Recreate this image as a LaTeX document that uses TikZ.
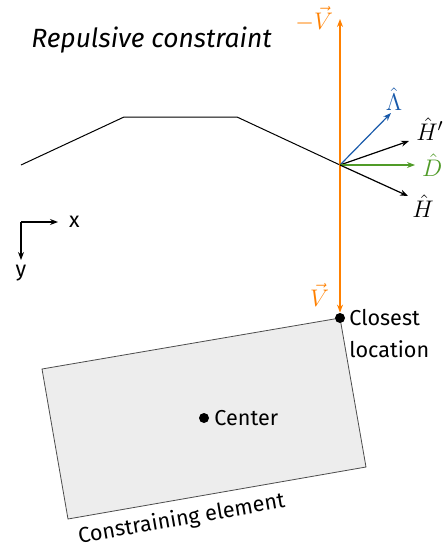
\documentclass[tikz,border=0pt]{standalone}
\usepackage[no-math]{fontspec}
\setmainfont{Fira Sans}
\usepackage{amsmath}
\usetikzlibrary{arrows.meta,positioning,calc}
\definecolor{vorange}{RGB}{255,128,0}
\definecolor{lblue}{RGB}{25,90,170}
\definecolor{dgreen}{RGB}{80,155,40}
\tikzset{
  vec/.style={line width=0.6pt,->},
  dotpt/.style={circle,fill=black,inner sep=0pt,minimum size=5pt},
  elem/.style={draw=black!70,line width=0.4pt,fill=black!7},
  mlabel/.style={font=\fontsize{12.5}{15}\selectfont}
}

\begin{document}
\begin{tikzpicture}[x=0.5pt,y=-0.5pt,>={Stealth[length=4pt,width=3pt]},
  font=\fontsize{10.8}{13}\selectfont]
\useasboundingbox (0,0) rectangle (444,546);
\node[anchor=base west,inner sep=0pt,font=\fontsize{13.2}{16}\selectfont\itshape] (title) at (31,47) {Repulsive constraint};
% constraint path
\coordinate (p1) at (21,165);
\coordinate (p2) at (124,117);
\coordinate (p3) at (237,117);
\coordinate (o) at (340,165);
\draw[line width=0.5pt] (p1)--(p2)--(p3)--(o);
% constraining element
\coordinate (tr) at (340,318);
\coordinate (tl) at (42,369);
\coordinate (bl) at (68,519);
\coordinate (br) at (366,467);
\draw[elem] (tr)--(tl)--(bl)--(br)--cycle;
\path (bl)--(br) node[pos=0.37,sloped,below=1pt] (elabel) {Constraining element};
\node[dotpt] (center) at (204,418) {};
\node[right=-1pt of center] (clabel) {Center};
\node[dotpt] (closest) at (tr) {};
\node[anchor=north west,align=left,inner sep=0pt] (loclabel) at (349,309) {Closest\\[3pt]location};
% V
\coordinate (vtop) at (340,19);
\draw[vec,<->,vorange] (vtop)--(closest);
\node[mlabel,vorange,left=0pt of vtop] (mv) {$-\vec{V}$};
\node[mlabel,vorange,anchor=east] (pv) at (336,295) {$\vec{V}$};
% unit vectors
\coordinate (lam) at (391,113);
\coordinate (hp) at (409,141);
\coordinate (d) at (415,165);
\coordinate (h) at (408,196);
\draw[vec,lblue] (o)--(lam);
\draw[vec] (o)--(hp);
\draw[vec,dgreen] (o)--(d);
\draw[vec] (o)--(h);
\node[mlabel,lblue,anchor=south,inner sep=1pt,xshift=1.5pt] (lamlabel) at (lam) {$\hat{\Lambda}$};
\node[mlabel,anchor=south west,inner sep=1pt,xshift=2.5pt,yshift=-1pt] (hplabel) at (hp) {$\hat{H}'$};
\node[mlabel,dgreen,right=0pt of d] (dlabel) {$\hat{D}$};
\node[mlabel,anchor=north west,inner sep=1pt,xshift=1pt,yshift=2pt] (hlabel) at (h) {$\hat{H}$};
% axes
\coordinate (ax) at (21,222);
\coordinate (axx) at (58,222);
\coordinate (axy) at (21,260);
\draw[vec] (ax)--(axx);
\draw[vec] (ax)--(axy);
\node[right=2pt of axx] (xl) {x};
\node[below=-1pt of axy] (yl) {y};
\end{tikzpicture}
\end{document}
